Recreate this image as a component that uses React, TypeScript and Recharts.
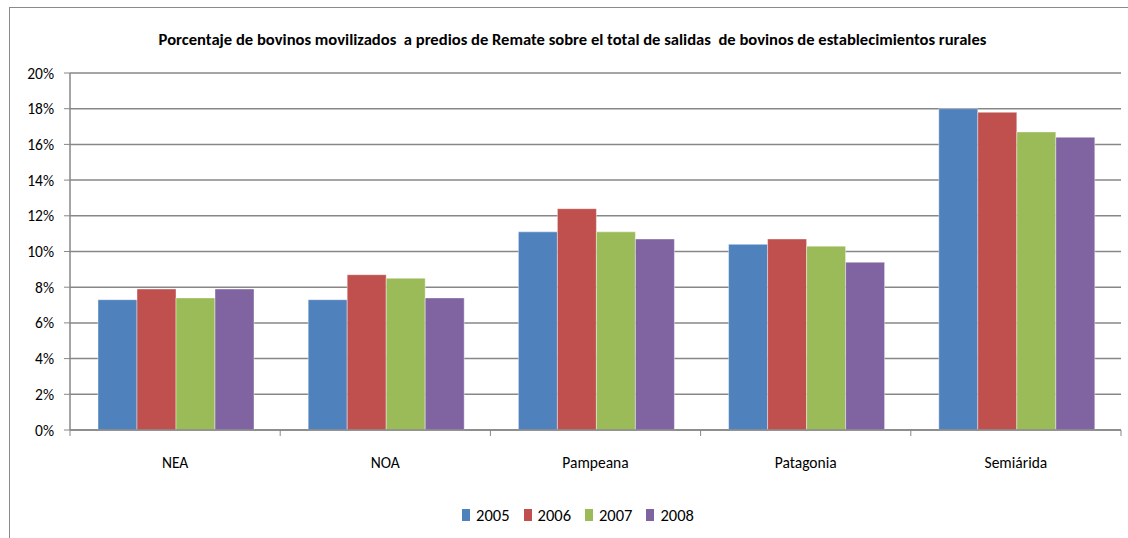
import { BarChart, Bar, XAxis, YAxis, CartesianGrid, Legend } from "recharts";

const regions = ["NEA", "NOA", "Pampeana", "Patagonia", "Semiárida"];
const y2005 = [7.3, 7.3, 11.1, 10.4, 18.0];
const y2006 = [7.9, 8.7, 12.4, 10.7, 17.8];
const y2007 = [7.4, 8.5, 11.1, 10.3, 16.7];
const y2008 = [7.9, 7.4, 10.7, 9.4, 16.4];
const yTicks = [0, 2, 4, 6, 8, 10, 12, 14, 16, 18, 20];

const title =
  "Porcentaje de bovinos movilizados  a predios de Remate sobre el total de salidas  de bovinos de establecimientos rurales";

const data = regions.map((r, i) => ({
  region: r,
  "2005": y2005[i],
  "2006": y2006[i],
  "2007": y2007[i],
  "2008": y2008[i],
}));

const series = [
  { key: "2005", color: "#4F81BD" },
  { key: "2006", color: "#C0504D" },
  { key: "2007", color: "#9BBB59" },
  { key: "2008", color: "#8064A2" },
];

const W = 1128;
const H = 538;
const LEG_H = 20;
// recharts reserves ~50px for the legend box, so plot bottom ends at y=430
const M = { top: 73, right: 7, bottom: 58, left: 10 };
const Y_W = 60;
const band = (W - M.left - M.right - Y_W) / regions.length;
const grid = "#878787";
const font = "Carlito, Lato, 'Open Sans', sans-serif";

function CatTick(props: any) {
  const { x, y, payload, index } = props;
  const left = x - band / 2;
  return (
    <g>
      <line x1={left} x2={left} y1={y} y2={y + 6} stroke={grid} />
      {index === regions.length - 1 && (
        <line x1={x + band / 2} x2={x + band / 2} y1={y} y2={y + 6} stroke={grid} />
      )}
      <text x={x} y={y + 38} textAnchor="middle" fontSize={15.5} fill="#000" fontFamily={font}>
        {payload.value}
      </text>
    </g>
  );
}

function LegendBox(props: any) {
  const items = props.payload || [];
  return (
    <div
      style={{
        display: "flex",
        justifyContent: "center",
        height: LEG_H,
        alignItems: "center",
        fontFamily: font,
        paddingLeft: 28,
      }}
    >
      {items.map((it: any, i: number) => (
        <div key={it.value} style={{ display: "flex", alignItems: "center", marginRight: i === items.length - 1 ? 0 : 14 }}>
          <span style={{ display: "inline-block", width: 8, height: 12, background: it.color, marginRight: 6 }} />
          <span style={{ fontSize: 16.5, color: "#000" }}>{it.value}</span>
        </div>
      ))}
    </div>
  );
}

export default function App() {
  return (
    <div style={{ position: "fixed", left: 0, top: 0, width: W, height: H, background: "#fff", overflow: "hidden" }}>
      <div
        style={{
          position: "absolute",
          left: 9,
          top: 7,
          width: W - 9,
          height: H - 7,
          borderLeft: "1px solid #8a8a8a",
          borderTop: "1px solid #8a8a8a",
          boxSizing: "border-box",
        }}
      />
      <div
        style={{
          position: "absolute",
          left: 0,
          top: 29,
          width: 1145,
          textAlign: "center",
          fontFamily: font,
          fontWeight: "bold",
          fontSize: 16.6,
          color: "#000",
          whiteSpace: "pre",
        }}
      >
        {title}
      </div>
      <div style={{ position: "absolute", left: 0, top: 0 }}>
        <BarChart width={W} height={H} data={data} margin={M} barCategoryGap={28} barGap={0}>
          <CartesianGrid vertical={false} stroke={grid} strokeWidth={1.5} />
          <XAxis
            dataKey="region"
            axisLine={{ stroke: grid, strokeWidth: 1.5 }}
            tickLine={false}
            tickSize={0}
            tickMargin={0}
            tick={<CatTick />}
            interval={0}
          />
          <YAxis
            width={Y_W}
            domain={[0, 20]}
            ticks={yTicks}
            interval={0}
            tickFormatter={(v) => `${v}%`}
            axisLine={{ stroke: grid, strokeWidth: 1.5 }}
            tickLine={{ stroke: grid }}
            tickSize={6}
            tickMargin={10}
            tick={{ fontSize: 15.5, fill: "#000", fontFamily: font }}
          />
          <Legend
            verticalAlign="bottom"
            align="center"
            content={<LegendBox />}
            wrapperStyle={{ bottom: 13, left: 0, width: W }}
          />
          {series.map((s) => (
            <Bar key={s.key} dataKey={s.key} fill={s.color} stroke="#ffffff" strokeOpacity={0.4} isAnimationActive={false} />
          ))}
        </BarChart>
      </div>
    </div>
  );
}
